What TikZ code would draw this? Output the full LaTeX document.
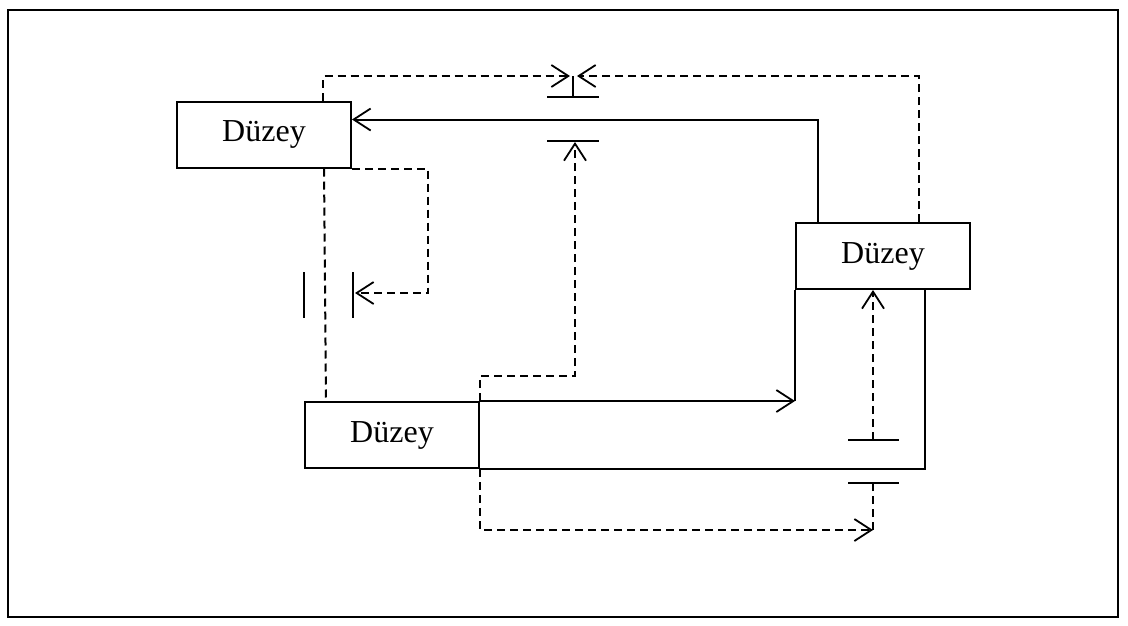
\documentclass[tikz,border=0pt]{standalone}
\usepackage{fontspec}
\setmainfont{Liberation Serif}
\usetikzlibrary{arrows.meta,calc}
\begin{document}
\begin{tikzpicture}[x=1pt,y=-1pt,
  line width=2pt,
  levelbox/.style={draw,minimum width=174pt,minimum height=66pt,inner sep=0pt,
    font=\fontsize{32}{36}\selectfont},
  arr/.style={-{Straight Barb[length=17pt,width=22pt,line width=1.8pt]}},
  dsh/.style={dash pattern=on 8pt off 5pt}]
\useasboundingbox (0,0) rectangle (1128,625);
\draw[line width=1.8pt] (8,10) rectangle (1118,617);
% level boxes
\node[levelbox] (L) at (264,134.5) {Düzey};
\node[levelbox] (R) at (883,256) {Düzey};
\node[levelbox] (B) at (392,435) {Düzey};
% valves / sinks
\coordinate (V1) at (573,76);
\coordinate (T1) at (575,142);
\coordinate (T2) at (873,440);
\coordinate (T3) at (873,483);
\coordinate (C3) at (873,530);
\draw (V1) -- ++(0,21);
\draw ($(V1)+(-26,21)$) -- ++(52,0);
\draw ($(T1)+(-28,-1)$) -- ++(52,0);
\draw ($(T2)+(-25,0)$) -- ++(51,0);
\draw ($(T3)+(-25,0)$) -- ++(51,0);
% left pair of bars
\coordinate (P1) at (304,272);
\coordinate (P2) at (353,272);
\draw (P1) -- ++(0,46);
\draw (P2) -- ++(0,46);
% solid flows
\draw[arr] ($(R.north west)+(23,0)$) |- ($(L.north east)+(0,19)$);
\draw[arr] (B.north east) -- (R.south west |- B.north east);
\draw (R.south west) -- (R.south west |- B.north east);
\draw (B.south east) -| ($(R.south east)+(-46,0)$);
% dashed information links
\draw[dsh,arr] ($(L.north west)+(147,0)$) |- ($(V1)+(-3,0)$);
\draw[dsh,arr] ($(R.north east)+(-52,0)$) |- ($(V1)+(4,0)$);
\draw[dsh] ($(L.south west)+(148,0)$) -- ($(B.north west)+(22,0)$);
\draw[dsh,arr] (L.south east) -- ++(76,0) |- ($(P2)+(2,21)$);
\draw[dsh,arr] (B.north east) -- ++(0,-25) -| (T1);
\draw[dsh,arr] (B.south east) |- (C3);
\draw[dsh] (C3) -- (T3);
\draw[dsh,arr] (T2) -- (T2 |- R.south);
\end{tikzpicture}
\end{document}
